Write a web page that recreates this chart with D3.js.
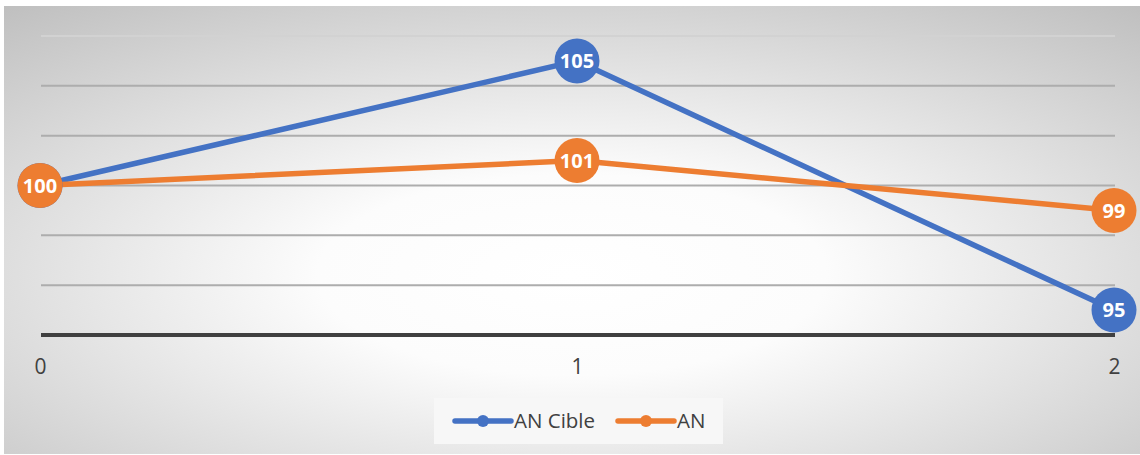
<!DOCTYPE html>
<html>
<head>
<meta charset="utf-8">
<script src="https://cdn.jsdelivr.net/npm/d3@7"></script>
<style>
  body { margin: 0; background: #fff; }
  svg { display: block; font-family: "Open Sans", "Noto Sans", sans-serif; }
</style>
</head>
<body>
<div id="chart"></div>
<script>
const W = 1140, H = 455;

const categories = [0, 1, 2];
const seriesNames = ["AN Cible", "AN"];
const anCible = [100, 105, 95];
const an = [100, 101, 99];
const gridValues = [94, 96, 98, 100, 102, 104, 106];
const colors = ["#4472C4", "#ED7D31"];

const margin = {left: 41, right: 25, top: 36, bottom: 120};

const svg = d3.select("#chart").append("svg")
    .attr("width", W)
    .attr("height", H);

const defs = svg.append("defs");
const grad = defs.append("radialGradient")
    .attr("id", "bg")
    .attr("cx", "50%").attr("cy", "60%")
    .attr("r", "80%");
grad.append("stop").attr("offset", "0%").attr("stop-color", "#ffffff");
grad.append("stop").attr("offset", "28%").attr("stop-color", "#fcfcfc");
grad.append("stop").attr("offset", "100%").attr("stop-color", "#bdbdbd");

svg.append("rect")
    .attr("x", 4).attr("y", 6)
    .attr("width", W - 4).attr("height", H - 7)
    .attr("fill", "url(#bg)");

const x = d3.scaleLinear()
    .domain([0, 2])
    .range([margin.left - 1, W - margin.right - 1]);
const y = d3.scaleLinear()
    .domain([94, 106])
    .range([335, 36]);

// gridlines
svg.append("g").selectAll("line")
    .data(gridValues.filter(v => v !== 94))
    .enter().append("line")
    .attr("x1", margin.left).attr("x2", W - margin.right)
    .attr("y1", d => y(d)).attr("y2", d => y(d))
    .attr("stroke", d => d === 106 ? "#d2d2d2" : "#adadad")
    .attr("stroke-width", 2);

// x axis
const xAxis = svg.append("g")
    .attr("transform", `translate(0,${y(94)})`)
    .call(d3.axisBottom(x).tickValues(categories).tickFormat(d3.format("d")).tickSize(0).tickPadding(24));
xAxis.attr("font-size", null).attr("font-family", null);
xAxis.select(".domain")
    .attr("d", `M${margin.left},0H${W - margin.right}`)
    .attr("stroke", "#404040")
    .attr("stroke-width", 4);
xAxis.selectAll("text")
    .style("font-size", "21px")
    .style("fill", "#404040");

const series = [anCible, an];
const line = d3.line()
    .x((d, i) => x(categories[i]))
    .y(d => y(d));

series.forEach((vals, s) => {
    svg.append("path")
        .datum(vals)
        .attr("d", line)
        .attr("fill", "none")
        .attr("stroke", colors[s])
        .attr("stroke-width", 5.5)
        .attr("stroke-linejoin", "round");
});

// markers drawn after both lines, AN Cible first so AN on top at 0
series.forEach((vals, s) => {
    const g = svg.append("g");
    const pts = g.selectAll("g").data(vals).enter().append("g")
        .attr("transform", (d, i) => `translate(${x(categories[i])},${y(d)})`);
    pts.append("circle")
        .attr("r", 22.5)
        .attr("fill", colors[s]);
    pts.append("text")
        .attr("text-anchor", "middle")
        .attr("dy", "0.36em")
        .attr("fill", "#fff")
        .style("font-size", "20px")
        .style("font-weight", "bold")
        .text(d => d);
});

// legend
const lg = svg.append("g");
lg.append("rect")
    .attr("x", 434).attr("y", 398)
    .attr("width", 289).attr("height", 46)
    .attr("fill", "#f7f7f7");
const legendX = [455, 618];
seriesNames.forEach((name, s) => {
    const item = lg.append("g").attr("transform", `translate(${legendX[s]},421)`);
    item.append("line")
        .attr("x1", 0).attr("x2", 56)
        .attr("stroke", colors[s])
        .attr("stroke-width", 5.5)
        .attr("stroke-linecap", "round");
    item.append("circle")
        .attr("cx", 28).attr("r", 6)
        .attr("fill", colors[s]);
    item.append("text")
        .attr("x", 59)
        .attr("dy", "0.35em")
        .style("font-size", "20.5px")
        .style("fill", "#404040")
        .text(name);
});
</script>
</body>
</html>
